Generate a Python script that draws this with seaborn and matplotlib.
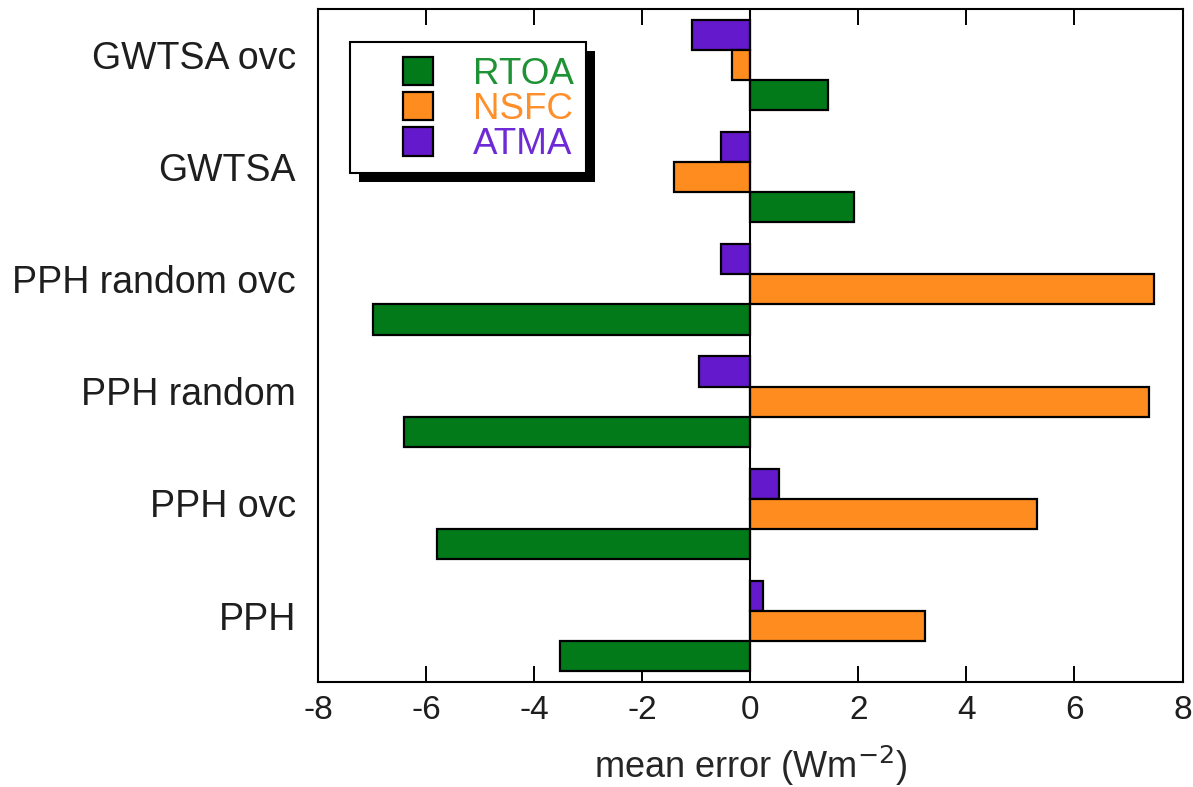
import matplotlib
matplotlib.use("Agg")
import matplotlib.pyplot as plt
from matplotlib.patches import Patch, Rectangle
from matplotlib.transforms import ScaledTranslation
import pandas as pd
import seaborn as sns

# Cases, top to bottom
cases = ["GWTSA ovc", "GWTSA", "PPH random ovc", "PPH random", "PPH ovc", "PPH"]

# Mean errors (W m^-2) per case
rtoa = [1.44, 1.92, -6.99, -6.40, -5.80, -3.53]
nsfc = [-0.34, -1.42, 7.48, 7.38, 5.31, 3.24]
atma = [-1.08, -0.54, -0.55, -0.94, 0.54, 0.24]

series_order = ["ATMA", "NSFC", "RTOA"]      # drawn top to bottom within a case
legend_order = ["RTOA", "NSFC", "ATMA"]
bar_colors = {"RTOA": "#037a19", "NSFC": "#ff8c1f", "ATMA": "#6419cc"}
text_colors = {"RTOA": "#1f9236", "NSFC": "#ff8f2a", "ATMA": "#6e2ad4"}

x_ticks = [-8, -6, -4, -2, 0, 2, 4, 6, 8]

df = pd.DataFrame({
    "case": cases * 3,
    "series": ["RTOA"] * len(cases) + ["NSFC"] * len(cases) + ["ATMA"] * len(cases),
    "value": rtoa + nsfc + atma,
})

sns.set_theme(style="white")
plt.rcParams["font.family"] = ["Liberation Sans", "DejaVu Sans"]

fig = plt.figure(figsize=(11.93, 7.87), dpi=100)
ax = fig.add_axes([0.2666, 0.1334, 0.7246, 0.8552])

sns.barplot(
    data=df, y="case", x="value", hue="series",
    order=cases, hue_order=series_order, palette=bar_colors,
    orient="h", width=0.805, gap=0, edgecolor="black", linewidth=1.6,
    saturation=1, legend=False, ax=ax,
)

ax.axvline(0, color="black", lw=1.5, zorder=5)
ax.set_xlim(-8, 8)
ax.set_ylim(5.5, -0.5)
ax.set_xticks(x_ticks)
ax.set_xticklabels([str(t) for t in x_ticks], fontsize=24)
ax.set_ylabel("")
ax.set_xlabel("mean error (Wm$^{-2}$)", fontsize=26, labelpad=13)

ax.tick_params(axis="x", direction="in", length=11.5, width=1.4,
               top=True, bottom=True, pad=9, colors="black", labelcolor="#1e1e1e")
ax.tick_params(axis="y", length=0, pad=16, labelsize=27, labelcolor="#1e1e1e")
for lab in ax.get_yticklabels():
    lab.set_transform(lab.get_transform() + ScaledTranslation(0, 7.5 / 72, fig.dpi_scale_trans))

for sp in ax.spines.values():
    sp.set_visible(True)
    sp.set_color("black")
    sp.set_linewidth(1.5)

# legend entries: colour squares with coloured labels
handles = [Patch(facecolor=bar_colors[s], edgecolor="black", linewidth=1.6) for s in legend_order]
leg = ax.legend(
    handles, legend_order, loc="upper left", bbox_to_anchor=(0.098, 0.929),
    fontsize=26.5, frameon=False, handlelength=0.82, handleheight=0.82,
    handletextpad=1.08, labelspacing=0.0, borderpad=0, borderaxespad=0,
)
leg.set_zorder(11)
for txt, s in zip(leg.get_texts(), legend_order):
    txt.set_color(text_colors[s])

# white legend box with a solid drop shadow, padded wider on the left
fig.canvas.draw()
W, H = fig.bbox.width, fig.bbox.height
bb = leg.get_window_extent()
pad_l, pad_r, pad_t, pad_b = 53, 12, 15, 11
x0 = (bb.x0 - pad_l) / W
y0 = (bb.y0 - pad_b) / H
bw = (bb.width + pad_l + pad_r) / W
bh = (bb.height + pad_t + pad_b) / H
shadow = Rectangle((x0 + 9 / W, y0 - 9 / H), bw, bh, transform=fig.transFigure,
                   facecolor="black", edgecolor="none", zorder=9, clip_on=False)
frame = Rectangle((x0, y0), bw, bh, transform=fig.transFigure,
                  facecolor="white", edgecolor="black", linewidth=1.5, zorder=10, clip_on=False)
ax.add_artist(shadow)
ax.add_artist(frame)

fig.savefig("out.png", dpi=100, facecolor="white")
